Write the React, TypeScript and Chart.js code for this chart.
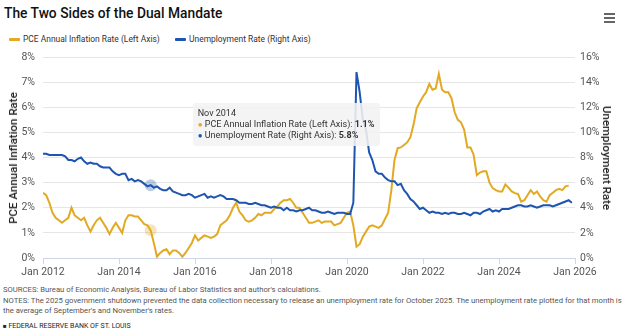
import React, { useEffect, useRef } from "react";
import { Chart, registerables } from "chart.js";

Chart.register(...registerables);

const TITLE = "The Two Sides of the Dual Mandate";
const SERIES_NAMES = ["PCE Annual Inflation Rate (Left Axis)", "Unemployment Rate (Right Axis)"];
const LEFT_AXIS_TITLE = "PCE Annual Inflation Rate";
const RIGHT_AXIS_TITLE = "Unemployment Rate";
const MONTHS = ["Jan", "Feb", "Mar", "Apr", "May", "Jun", "Jul", "Aug", "Sep", "Oct", "Nov", "Dec"];
const START_YEAR = 2012;
const X_TICK_LABELS = ["Jan 2012", "Jan 2014", "Jan 2016", "Jan 2018", "Jan 2020", "Jan 2022", "Jan 2024", "Jan 2026"];
const LEFT_MAX = 8;
const RIGHT_MAX = 16;
const TOOLTIP_MONTH = "Nov 2014";

// Monthly, Jan 2012 – Nov 2025
const pceInflation = [
  2.6, 2.5, 2.2, 1.8, 1.6, 1.5, 1.4, 1.5, 1.6, 2.0, 1.7, 1.6,
  1.5, 1.6, 1.3, 1.05, 1.3, 1.5, 1.6, 1.4, 1.2, 0.95, 1.2, 1.4,
  1.2, 1.0, 1.5, 1.7, 1.7, 1.65, 1.65, 1.5, 1.35, 1.3, 1.1, 0.6,
  0.05, 0.2, 0.3, 0.35, 0.15, 0.3, 0.3, 0.2, 0.05, 0.2, 0.4, 0.6,
  0.9, 0.7, 0.8, 0.9, 0.85, 0.8, 0.85, 0.95, 1.3, 1.4, 1.5, 1.7,
  2.0, 2.2, 1.85, 1.7, 1.5, 1.45, 1.5, 1.6, 1.75, 1.7, 1.8, 1.8,
  1.8, 1.95, 2.05, 2.2, 2.3, 2.3, 2.35, 2.2, 2.0, 2.0, 1.8, 1.6,
  1.4, 1.4, 1.45, 1.5, 1.4, 1.45, 1.45, 1.45, 1.3, 1.35, 1.4, 1.6,
  1.8, 1.85, 1.3, 0.45, 0.55, 0.85, 1.05, 1.25, 1.3, 1.25, 1.2, 1.3,
  1.55, 1.8, 2.7, 3.9, 4.37, 4.4, 4.5, 4.6, 4.8, 5.3, 5.96, 6.2,
  6.43, 6.6, 6.93, 6.7, 6.75, 7.33, 6.7, 6.6, 6.6, 6.36, 5.8, 5.5,
  5.4, 5.1, 4.4, 4.4, 4.1, 3.3, 3.4, 3.45, 3.45, 3.0, 2.78, 2.7,
  2.65, 2.65, 2.93, 2.8, 2.65, 2.58, 2.55, 2.24, 2.3, 2.5, 2.7, 2.55,
  2.65, 2.45, 2.3, 2.24, 2.5, 2.6, 2.7, 2.75, 2.7, 2.85, 2.88,
];

// Monthly, Jan 2012 – Dec 2025
const unemploymentRate = [
  8.3, 8.3, 8.2, 8.2, 8.2, 8.2, 8.2, 8.1, 7.8, 7.8, 7.7, 7.9,
  8.0, 7.7, 7.5, 7.6, 7.5, 7.5, 7.3, 7.2, 7.2, 7.2, 6.9, 6.7,
  6.6, 6.7, 6.7, 6.2, 6.3, 6.1, 6.2, 6.1, 5.9, 5.7, 5.8, 5.6,
  5.7, 5.5, 5.4, 5.4, 5.6, 5.3, 5.2, 5.1, 5.0, 5.0, 5.1, 5.0,
  4.8, 4.9, 5.0, 5.1, 4.8, 4.9, 4.8, 4.9, 5.0, 4.9, 4.7, 4.7,
  4.7, 4.6, 4.4, 4.4, 4.4, 4.3, 4.3, 4.4, 4.3, 4.2, 4.2, 4.1,
  4.0, 4.1, 4.0, 4.0, 3.8, 4.0, 3.8, 3.8, 3.7, 3.8, 3.8, 3.9,
  4.0, 3.8, 3.8, 3.7, 3.6, 3.6, 3.7, 3.6, 3.5, 3.6, 3.6, 3.6,
  3.5, 3.5, 4.4, 14.8, 13.2, 11.0, 10.2, 8.4, 7.8, 6.9, 6.7, 6.7,
  6.4, 6.2, 6.1, 6.1, 5.8, 5.9, 5.4, 5.1, 4.7, 4.5, 4.2, 3.9,
  4.0, 3.8, 3.6, 3.7, 3.6, 3.6, 3.5, 3.6, 3.5, 3.6, 3.6, 3.5,
  3.5, 3.6, 3.5, 3.4, 3.6, 3.6, 3.5, 3.7, 3.8, 3.9, 3.7, 3.8,
  3.7, 3.9, 3.9, 3.9, 4.0, 4.1, 4.2, 4.2, 4.1, 4.1, 4.2, 4.1,
  4.0, 4.1, 4.2, 4.2, 4.2, 4.1, 4.2, 4.3, 4.4, 4.5, 4.6, 4.4,
];

const FOOTER_SOURCES = "SOURCES: Bureau of Economic Analysis, Bureau of Labor Statistics and author's calculations.";
const FOOTER_NOTES_1 =
  "NOTES: The 2025 government shutdown prevented the data collection necessary to release an unemployment rate for October 2025. The unemployment rate plotted for that month is";
const FOOTER_NOTES_2 = "the average of September's and November's rates.";
const FOOTER_BRAND = "FEDERAL RESERVE BANK OF ST. LOUIS";

const ORANGE = "#e2a922";
const BLUE = "#1d55b0";
const FONT = "Roboto, 'Noto Sans', sans-serif";

const monthLabel = (i: number) => `${MONTHS[i % 12]} ${START_YEAR + Math.floor(i / 12)}`;
const LAST_INDEX = (X_TICK_LABELS.length - 1) * 24;

export default function App() {
  const canvasRef = useRef<HTMLCanvasElement>(null);
  const tipRef = useRef<HTMLDivElement>(null);

  useEffect(() => {
    const canvas = canvasRef.current!;
    const colors = [ORANGE, BLUE];
    const chart = new Chart(canvas, {
      type: "line",
      data: {
        datasets: [
          {
            label: SERIES_NAMES[0],
            data: pceInflation.map((v, i) => ({ x: i, y: v })),
            yAxisID: "yLeft",
            borderColor: ORANGE,
            backgroundColor: ORANGE,
            borderWidth: 2,
            pointRadius: 0,
            pointHoverRadius: 6,
            pointHoverBorderWidth: 0,
            pointHoverBackgroundColor: "rgba(226,169,34,0.3)",
            tension: 0,
            order: 1,
          },
          {
            label: SERIES_NAMES[1],
            data: unemploymentRate.map((v, i) => ({ x: i, y: v })),
            yAxisID: "yRight",
            borderColor: BLUE,
            backgroundColor: BLUE,
            borderWidth: 2,
            pointRadius: 0,
            pointHoverRadius: 6,
            pointHoverBorderWidth: 0,
            pointHoverBackgroundColor: "rgba(29,85,176,0.3)",
            tension: 0,
            order: 0,
          },
        ],
      },
      options: {
        animation: false,
        responsive: false,
        maintainAspectRatio: false,
        events: [],
        layout: { padding: { top: 57, left: 0, right: 0, bottom: 0 } },
        interaction: { mode: "index", intersect: false },
        plugins: {
          legend: { display: false },
          title: { display: false },
          tooltip: {
            enabled: false,
            external: (ctx: any) => {
              const { chart: ch, tooltip } = ctx;
              const el = tipRef.current;
              if (!el) return;
              if (!tooltip || tooltip.opacity === 0 || !tooltip.dataPoints || !tooltip.dataPoints.length) {
                el.style.display = "none";
                return;
              }
              const pts = [...tooltip.dataPoints].sort((a: any, b: any) => a.datasetIndex - b.datasetIndex);
              const idx = pts[0].dataIndex;
              const rows = pts
                .map(
                  (p: any) =>
                    `<div style="white-space:nowrap;line-height:11px"><span style="color:${colors[p.datasetIndex]};font-size:8px;">\u25CF</span> ${p.dataset.label}: <b>${p.parsed.y.toFixed(1)}%</b></div>`
                )
                .join("");
              el.innerHTML = `<div style="line-height:12px;margin-bottom:0px">${monthLabel(idx)}</div>${rows}`;
              el.style.display = "block";
              el.style.left = `${pts[0].element.x + 42}px`;
              el.style.top = `${ch.chartArea.top + 46}px`;
            },
          },
        },
        scales: {
          x: {
            type: "linear",
            min: 0,
            max: LAST_INDEX,
            afterFit: (s: any) => {
              s.height = 22;
            },
            afterBuildTicks: (s: any) => {
              s.ticks = X_TICK_LABELS.map((_, i) => ({ value: i * 24 }));
            },
            ticks: {
              autoSkip: false,
              maxRotation: 0,
              padding: 2,
              color: "#555",
              font: { family: FONT, size: 10.5 },
              callback: (_v: any, i: number) => X_TICK_LABELS[i],
            },
            grid: { drawOnChartArea: false, drawTicks: true, tickLength: 6, color: "#ccd6eb" },
            border: { display: true, color: "#ccd6eb", width: 1 },
          },
          yLeft: {
            type: "linear",
            position: "left",
            min: 0,
            max: LEFT_MAX,
            afterFit: (s: any) => {
              s.width = 43;
            },
            ticks: {
              stepSize: 1,
              padding: 8,
              color: "#555",
              font: { family: FONT, size: 10.5 },
              callback: (v: any) => `${v}%`,
            },
            grid: { color: "#e6e6e6", drawTicks: false, lineWidth: 1 },
            border: { display: false },
          },
          yRight: {
            type: "linear",
            position: "right",
            min: 0,
            max: RIGHT_MAX,
            afterFit: (s: any) => {
              s.width = 49;
            },
            ticks: {
              stepSize: 2,
              padding: 5,
              color: "#555",
              font: { family: FONT, size: 10.5 },
              callback: (v: any) => `${v}%`,
            },
            grid: { drawOnChartArea: false, drawTicks: false },
            border: { display: false },
          },
        },
      } as any,
    });

    const idx = Array.from({ length: unemploymentRate.length }, (_, i) => monthLabel(i)).indexOf(TOOLTIP_MONTH);
    const active = [
      { datasetIndex: 0, index: idx },
      { datasetIndex: 1, index: idx },
    ];
    chart.setActiveElements(active);
    chart.tooltip?.setActiveElements(active, { x: 0, y: 0 });
    chart.draw();

    return () => chart.destroy();
  }, []);

  const legendItem = (left: number, color: string, text: string) => (
    <div style={{ position: "absolute", left, top: 33, height: 12, whiteSpace: "nowrap" }}>
      <div style={{ position: "absolute", left: 0, top: 5, width: 11, height: 3, background: color, borderRadius: 1 }} />
      <div
        style={{
          position: "absolute",
          left: 14,
          top: 0,
          fontSize: 9.5,
          lineHeight: "12px",
          color: "#333",
          transform: "scaleX(0.89)",
          transformOrigin: "left center",
        }}
      >
        {text}
      </div>
    </div>
  );

  return (
    <div
      style={{
        position: "absolute",
        left: 0,
        top: 0,
        width: 624,
        height: 334,
        background: "#fff",
        overflow: "hidden",
        fontFamily: FONT,
        color: "#333",
      }}
    >
      <div
        style={{
          position: "absolute",
          left: 4,
          top: 4,
          fontSize: 15,
          lineHeight: "18px",
          fontWeight: 500,
          color: "#111",
          whiteSpace: "nowrap",
          transform: "scaleX(0.92)",
          transformOrigin: "left center",
        }}
      >
        {TITLE}
      </div>
      <div style={{ position: "absolute", left: 604, top: 13, width: 11 }}>
        {[0, 1, 2].map((k) => (
          <div key={k} style={{ height: 2, background: "#666", marginBottom: 2 }} />
        ))}
      </div>
      {legendItem(9, ORANGE, SERIES_NAMES[0])}
      {legendItem(175, BLUE, SERIES_NAMES[1])}
      <canvas ref={canvasRef} width={624} height={280} style={{ position: "absolute", left: 0, top: 0, width: 624, height: 280 }} />
      <div
        style={{
          position: "absolute",
          left: 13,
          top: 158,
          transform: "translate(-50%, -50%) rotate(-90deg)",
          fontSize: 11.5,
          fontWeight: 500,
          color: "#222",
          whiteSpace: "nowrap",
        }}
      >
        {LEFT_AXIS_TITLE}
      </div>
      <div
        style={{
          position: "absolute",
          left: 607,
          top: 158,
          transform: "translate(-50%, -50%) rotate(90deg)",
          fontSize: 11.5,
          fontWeight: 500,
          color: "#222",
          whiteSpace: "nowrap",
        }}
      >
        {RIGHT_AXIS_TITLE}
      </div>
      <div
        ref={tipRef}
        style={{
          position: "absolute",
          display: "none",
          background: "rgba(243,243,243,0.88)",
          borderRadius: 3,
          padding: "4px 6px 5px 5px",
          fontSize: 9,
          color: "#333",
          pointerEvents: "none",
        }}
      />
      <div
        style={{
          position: "absolute",
          left: 3,
          top: 285,
          fontSize: 7.7,
          lineHeight: "10.7px",
          color: "#555",
          whiteSpace: "nowrap",
        }}
      >
        <div>{FOOTER_SOURCES}</div>
        <div>{FOOTER_NOTES_1}</div>
        <div>{FOOTER_NOTES_2}</div>
        <div style={{ marginTop: 4, color: "#222", fontSize: 7 }}>
          <span style={{ fontSize: 6 }}>{"\u25A0"}</span> {FOOTER_BRAND}
        </div>
      </div>
    </div>
  );
}
